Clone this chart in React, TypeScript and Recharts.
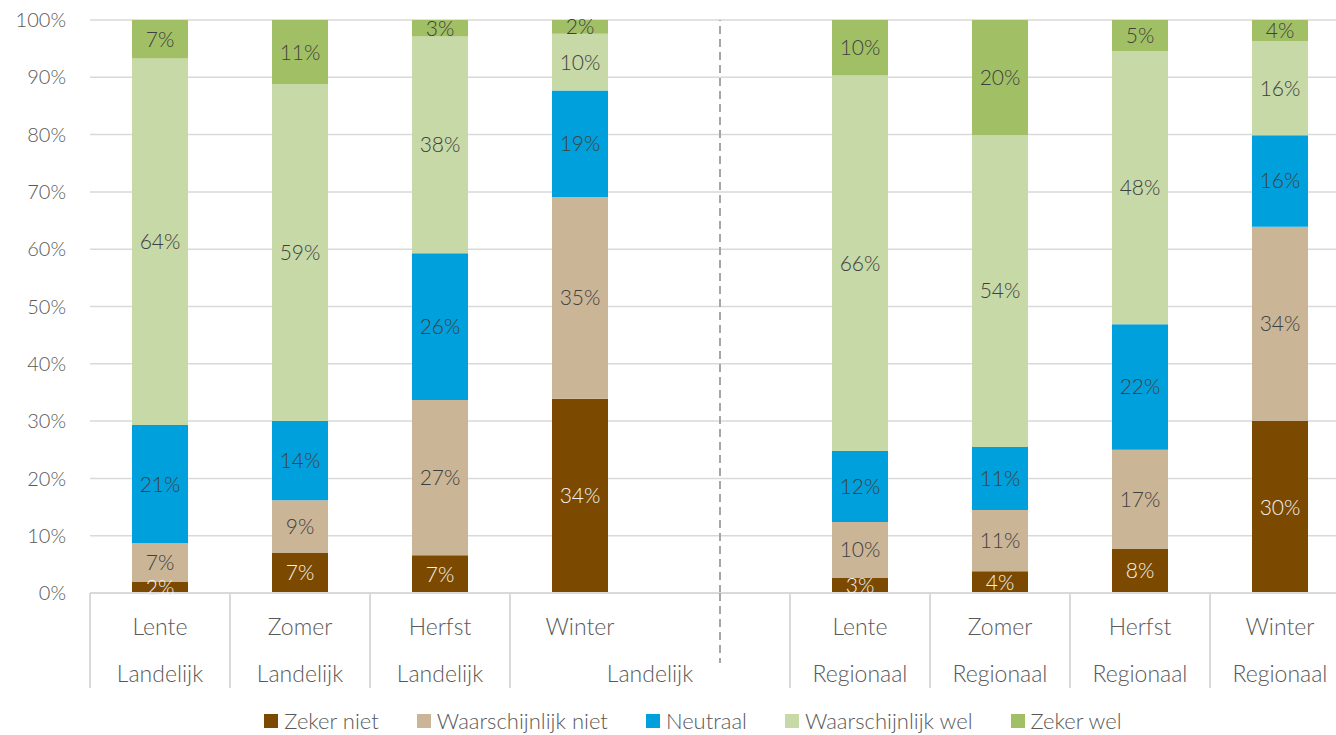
import {
  Bar,
  BarChart,
  CartesianGrid,
  LabelList,
  Legend,
  ReferenceLine,
  XAxis,
  YAxis,
} from 'recharts';

const seasons = ['Lente', 'Zomer', 'Herfst', 'Winter', '', 'Lente', 'Zomer', 'Herfst', 'Winter'];
const regions = ['Landelijk', 'Landelijk', 'Landelijk', 'Landelijk', '', 'Regionaal', 'Regionaal', 'Regionaal', 'Regionaal'];

const zekerNiet = [1.9, 7.0, 6.6, 33.9, null, 2.6, 3.8, 7.7, 30.0];
const waarschijnlijkNiet = [6.8, 9.2, 27.1, 35.2, null, 9.8, 10.7, 17.3, 33.9];
const neutraal = [20.6, 13.8, 25.6, 18.6, null, 12.4, 11.0, 21.9, 16.0];
const waarschijnlijkWel = [64.0, 58.8, 37.8, 9.9, null, 65.5, 54.4, 47.7, 16.4];
const zekerWel = [6.7, 11.2, 2.9, 2.4, null, 9.7, 20.1, 5.4, 3.7];

const seriesNames = ['Zeker niet', 'Waarschijnlijk niet', 'Neutraal', 'Waarschijnlijk wel', 'Zeker wel'];
const seriesKeys = ['zn', 'wn', 'ne', 'ww', 'zw'];
const seriesColors = ['#7B4A00', '#CBB597', '#00A0DC', '#C7D9A7', '#A1C065'];
const labelColors = ['#F2F2F2', '#404040', '#404040', '#404040', '#404040'];

const yTicks = [0, 10, 20, 30, 40, 50, 60, 70, 80, 90, 100];

const data = seasons.map((season, i) => ({
  key: season ? `${season} ${regions[i]}` : 'gap',
  season,
  region: regions[i],
  zn: zekerNiet[i],
  wn: waarschijnlijkNiet[i],
  ne: neutraal[i],
  ww: waarschijnlijkWel[i],
  zw: zekerWel[i],
}));

const axisGrey = '#595959';
const lineGrey = '#D9D9D9';

function CategoryTick(props: any) {
  const { x, y, payload, index } = props;
  const half = payload?.offset ?? 70;
  const cat = data[index];
  if (!cat) return null;
  if (!cat.season) {
    // gap between the two groups: extend the dashed divider below the axis
    return <line x1={x} x2={x} y1={y} y2={y + 70} stroke="#A6A6A6" strokeWidth={2} strokeDasharray="8 5" />;
  }
  const next = data[index + 1];
  const groupX = next && !next.season ? x + half : x;
  const isLast = index === data.length - 1;
  return (
    <g>
      <line x1={x - half} x2={x - half} y1={y} y2={y + 95} stroke={lineGrey} strokeWidth={2} />
      {isLast && <line x1={x + half} x2={x + half} y1={y} y2={y + 95} stroke={lineGrey} strokeWidth={2} />}
      <text x={x} y={y + 33} textAnchor="middle" dominantBaseline="central" fill={axisGrey} fontSize={23}>
        {cat.season}
      </text>
      <text x={groupX} y={y + 80} textAnchor="middle" dominantBaseline="central" fill={axisGrey} fontSize={23}>
        {cat.region}
      </text>
    </g>
  );
}

// legend built from the series arrays so the order stays as in the reference
function LegendContent() {
  return (
    <div
      style={{
        height: 47,
        display: 'flex',
        justifyContent: 'center',
        alignItems: 'flex-end',
        paddingLeft: 74,
        paddingBottom: 3,
        boxSizing: 'border-box',
      }}
    >
      {seriesNames.map((name, i) => (
        <div key={name} style={{ display: 'flex', alignItems: 'center', marginRight: 38, lineHeight: '22px' }}>
          <span style={{ width: 14, height: 14, background: seriesColors[i], marginRight: 6, display: 'inline-block' }} />
          <span style={{ fontSize: 22, color: axisGrey }}>{name}</span>
        </div>
      ))}
    </div>
  );
}

export default function App() {
  return (
    <div
      style={{
        position: 'absolute',
        left: 0,
        top: 0,
        width: 1336,
        height: 735,
        overflow: 'hidden',
        background: '#fff',
        fontFamily: 'Lato, sans-serif',
        fontWeight: 300,
      }}
    >
      <BarChart
        width={1350}
        height={735}
        data={data}
        margin={{ top: 20, right: 0, bottom: 0, left: 0 }}
        barCategoryGap="30%"
      >
        <CartesianGrid vertical={false} stroke={lineGrey} strokeWidth={1.5} />
        <XAxis
          dataKey="key"
          interval={0}
          height={95}
          tickLine={false}
          tickSize={0}
          tickMargin={0}
          axisLine={{ stroke: lineGrey, strokeWidth: 2 }}
          tick={<CategoryTick />}
        />
        <YAxis
          width={90}
          domain={[0, 100]}
          ticks={yTicks}
          allowDataOverflow
          axisLine={false}
          tickLine={false}
          tickMargin={18}
          tickFormatter={(v: number) => `${v}%`}
          tick={{ fill: axisGrey, fontSize: 20 }}
        />
        <ReferenceLine x="gap" stroke="#A6A6A6" strokeWidth={2} strokeDasharray="8 5" />
        {seriesKeys.map((k, i) => (
          <Bar key={k} dataKey={k} name={seriesNames[i]} stackId="a" fill={seriesColors[i]} isAnimationActive={false}>
            <LabelList
              dataKey={k}
              position="center"
              fill={labelColors[i]}
              fontSize={21}
              formatter={(v: any) => (v == null ? '' : `${Math.round(v)}%`)}
            />
          </Bar>
        ))}
        <Legend verticalAlign="bottom" content={<LegendContent />} />
      </BarChart>
    </div>
  );
}
